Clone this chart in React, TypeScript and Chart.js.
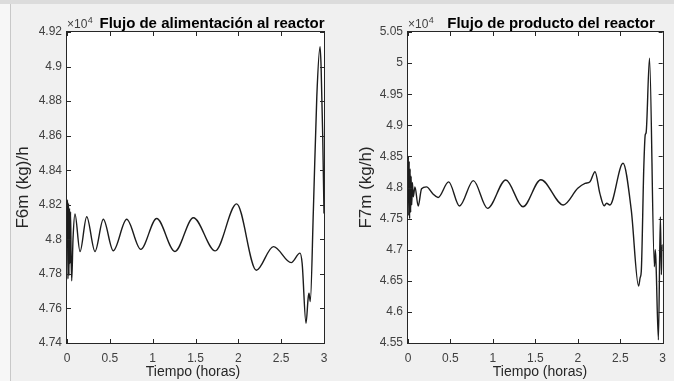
import React, { useEffect, useRef } from "react";
import { Chart, registerables } from "chart.js";

Chart.register(...registerables);

// ---------- data (values in units of 10^4 kg/h) ----------
const timeF6 = [
  0, 0.005, 0.011, 0.017, 0.023, 0.029, 0.035, 0.041, 0.048, 0.055, 0.07, 0.093,
  0.152, 0.23, 0.327, 0.424, 0.54, 0.697, 0.86, 1.047, 1.26, 1.475, 1.73, 1.98,
  2.21, 2.41, 2.617, 2.72, 2.745, 2.79, 2.815, 2.825, 2.84, 2.876, 2.916, 2.954,
  2.966, 2.985, 3.0,
];
const valuesF6 = [
  4.8, 4.823, 4.777, 4.821, 4.779, 4.818, 4.786, 4.816, 4.79, 4.776, 4.8, 4.8147,
  4.7929, 4.8131, 4.793, 4.8116, 4.7934, 4.8116, 4.7942, 4.8121, 4.793, 4.8125, 4.7933, 4.8205,
  4.7821, 4.7958, 4.7865, 4.792, 4.786, 4.7514, 4.766, 4.7688, 4.764, 4.817, 4.8826, 4.9115,
  4.9, 4.86, 4.815,
];

const timeF7 = [
  0, 0.004, 0.009, 0.014, 0.019, 0.025, 0.031, 0.037, 0.044, 0.052, 0.062, 0.082,
  0.12, 0.16, 0.218, 0.292, 0.354, 0.479, 0.607, 0.77, 0.937, 1.152, 1.354, 1.565,
  1.83, 2.0, 2.086, 2.144, 2.203, 2.26, 2.311, 2.34, 2.378, 2.533, 2.63, 2.716,
  2.735, 2.748, 2.778, 2.795, 2.805, 2.845, 2.903, 2.912, 2.92, 2.95, 2.973, 2.985,
  2.995, 3.0,
];
const valuesF7 = [
  4.8, 4.85, 4.755, 4.842, 4.75, 4.83, 4.76, 4.818, 4.772, 4.808, 4.785, 4.801,
  4.77, 4.798, 4.801, 4.79, 4.784, 4.809, 4.7703, 4.811, 4.7665, 4.8121, 4.769, 4.8125,
  4.7719, 4.7987, 4.8067, 4.8093, 4.8254, 4.7906, 4.7707, 4.7746, 4.7719, 4.8389, 4.764, 4.6416,
  4.655, 4.665, 4.8334, 4.885, 4.888, 5.008, 4.6726, 4.7, 4.685, 4.555, 4.753, 4.66,
  4.708, 4.7,
];

const xTicks = [0, 0.5, 1, 1.5, 2, 2.5, 3];
const xTickLabels = ["0", "0.5", "1", "1.5", "2", "2.5", "3"];

const yTicksF6 = [4.74, 4.76, 4.78, 4.8, 4.82, 4.84, 4.86, 4.88, 4.9, 4.92];
const yTickLabelsF6 = ["4.74", "4.76", "4.78", "4.8", "4.82", "4.84", "4.86", "4.88", "4.9", "4.92"];

const yTicksF7 = [4.55, 4.6, 4.65, 4.7, 4.75, 4.8, 4.85, 4.9, 4.95, 5.0, 5.05];
const yTickLabelsF7 = ["4.55", "4.6", "4.65", "4.7", "4.75", "4.8", "4.85", "4.9", "4.95", "5", "5.05"];

const titleF6 = "Flujo de alimentación al reactor";
const titleF7 = "Flujo de producto del reactor";
const yTitleF6 = "F6m (kg)/h";
const yTitleF7 = "F7m (kg/h)";
const xTitle = "Tiempo (horas)";
const exponentBase = "×10";
const exponentPower = "4";

// ---------- chart factory ----------
const FONT = "'Liberation Sans', Arial, Helvetica, sans-serif";
const AXIS_COLOR = "#262626";

type PanelCfg = {
  time: number[];
  values: number[];
  yTicks: number[];
  yLabels: string[];
  title: string;
  yTitle: string;
  yWidth: number;
  padRight: number;
  titleX: number;
  yTitleX: number;
  xTitleX: number;
};

function labelFor(ticks: number[], labels: string[], v: number) {
  const i = ticks.findIndex((t) => Math.abs(t - v) < 1e-9);
  return i >= 0 ? labels[i] : "";
}

function makeChart(canvas: HTMLCanvasElement, cfg: PanelCfg) {
  const decor = {
    id: "matlabDecor",
    beforeDraw(chart: any) {
      const { ctx, chartArea } = chart;
      ctx.save();
      ctx.fillStyle = "#ffffff";
      ctx.fillRect(chartArea.left, chartArea.top, chartArea.right - chartArea.left, chartArea.bottom - chartArea.top);
      ctx.restore();
    },
    afterDraw(chart: any) {
      const { ctx, chartArea } = chart;
      const { left, right, top, bottom } = chartArea;
      const xs = chart.scales.x;
      const ys = chart.scales.y;
      ctx.save();
      ctx.strokeStyle = AXIS_COLOR;
      ctx.lineWidth = 1;
      ctx.strokeRect(Math.round(left) - 0.5, Math.round(top) - 0.5, Math.round(right - left) + 1, Math.round(bottom - top) + 1);
      const tl = 4;
      ctx.beginPath();
      xTicks.forEach((v) => {
        const px = Math.round(xs.getPixelForValue(v)) + 0.5;
        ctx.moveTo(px, bottom);
        ctx.lineTo(px, bottom - tl);
        ctx.moveTo(px, top);
        ctx.lineTo(px, top + tl);
      });
      cfg.yTicks.forEach((v) => {
        const py = Math.round(ys.getPixelForValue(v)) + 0.5;
        ctx.moveTo(left, py);
        ctx.lineTo(left + tl, py);
        ctx.moveTo(right, py);
        ctx.lineTo(right - tl, py);
      });
      ctx.stroke();

      // title
      ctx.fillStyle = "#000000";
      ctx.font = `bold 15px ${FONT}`;
      ctx.textAlign = "center";
      ctx.textBaseline = "alphabetic";
      ctx.fillText(cfg.title, cfg.titleX, 28);

      // exponent
      ctx.fillStyle = "#404040";
      ctx.font = `12px ${FONT}`;
      ctx.textAlign = "left";
      ctx.fillText(exponentBase, left, 28);
      const w = ctx.measureText(exponentBase).width;
      ctx.font = `9px ${FONT}`;
      ctx.fillText(exponentPower, left + w + 0.5, 22.5);

      // x title
      ctx.fillStyle = "#262626";
      ctx.font = `14px ${FONT}`;
      ctx.textAlign = "center";
      ctx.fillText(xTitle, cfg.xTitleX, 376);

      // y title
      ctx.save();
      ctx.translate(cfg.yTitleX, (top + bottom) / 2);
      ctx.rotate(-Math.PI / 2);
      ctx.font = `17px ${FONT}`;
      ctx.textAlign = "center";
      ctx.textBaseline = "middle";
      ctx.fillText(cfg.yTitle, 0, 0);
      ctx.restore();

      ctx.restore();
    },
  };

  return new Chart(canvas, {
    type: "line",
    data: {
      datasets: [
        {
          data: cfg.time.map((t, i) => ({ x: t, y: cfg.values[i] })),
          borderColor: "#1c1c1c",
          borderWidth: 1.4,
          pointRadius: 0,
          fill: false,
          tension: 0.4,
          cubicInterpolationMode: "monotone",
        },
      ],
    },
    options: {
      responsive: false,
      animation: false,
      devicePixelRatio: 1,
      events: [],
      layout: { padding: { top: 32, right: cfg.padRight, left: 0, bottom: 0 } },
      plugins: { legend: { display: false }, title: { display: false }, tooltip: { enabled: false } },
      scales: {
        x: {
          type: "linear",
          min: 0,
          max: 3,
          grid: { display: false, drawTicks: false, tickLength: 0 },
          border: { display: false },
          afterBuildTicks: (s: any) => {
            s.ticks = xTicks.map((v) => ({ value: v }));
          },
          afterFit: (s: any) => {
            s.height = 38;
          },
          ticks: {
            padding: 8,
            maxRotation: 0,
            autoSkip: false,
            color: "#404040",
            font: { size: 12, family: FONT },
            callback: (v: any) => labelFor(xTicks, xTickLabels, Number(v)),
          },
        },
        y: {
          type: "linear",
          min: cfg.yTicks[0],
          max: cfg.yTicks[cfg.yTicks.length - 1],
          grid: { display: false, drawTicks: false, tickLength: 0 },
          border: { display: false },
          afterBuildTicks: (s: any) => {
            s.ticks = cfg.yTicks.map((v) => ({ value: v }));
          },
          afterFit: (s: any) => {
            s.width = cfg.yWidth;
          },
          ticks: {
            padding: 5,
            autoSkip: false,
            color: "#404040",
            font: { size: 12, family: FONT },
            callback: (v: any) => labelFor(cfg.yTicks, cfg.yLabels, Number(v)),
          },
        },
      },
    },
    plugins: [decor],
  } as any);
}

export default function App() {
  const leftRef = useRef<HTMLCanvasElement>(null);
  const rightRef = useRef<HTMLCanvasElement>(null);

  useEffect(() => {
    const c1 = makeChart(leftRef.current!, {
      time: timeF6,
      values: valuesF6,
      yTicks: yTicksF6,
      yLabels: yTickLabelsF6,
      title: titleF6,
      yTitle: yTitleF6,
      yWidth: 67,
      padRight: 13,
      titleX: 212,
      yTitleX: 23,
      xTitleX: 193,
    });
    const c2 = makeChart(rightRef.current!, {
      time: timeF7,
      values: valuesF7,
      yTicks: yTicksF7,
      yLabels: yTickLabelsF7,
      title: titleF7,
      yTitle: yTitleF7,
      yWidth: 71,
      padRight: 9,
      titleX: 214,
      yTitleX: 29,
      xTitleX: 203,
    });
    return () => {
      c1.destroy();
      c2.destroy();
    };
  }, []);

  return (
    <div
      style={{
        position: "absolute",
        left: 0,
        top: 0,
        width: 674,
        height: 381,
        background: "#f0f0f0",
        overflow: "hidden",
      }}
    >
      <div style={{ position: "absolute", left: 0, top: 0, width: 674, height: 4, background: "#dcdcdc" }} />
      <div style={{ position: "absolute", left: 0, top: 4, width: 10, height: 377, background: "#f7f7f7" }} />
      <div style={{ position: "absolute", left: 10, top: 4, width: 1, height: 377, background: "#c8c8c8" }} />
      <canvas ref={leftRef} width={337} height={381} style={{ position: "absolute", left: 0, top: 0 }} />
      <canvas ref={rightRef} width={337} height={381} style={{ position: "absolute", left: 337, top: 0 }} />
    </div>
  );
}
